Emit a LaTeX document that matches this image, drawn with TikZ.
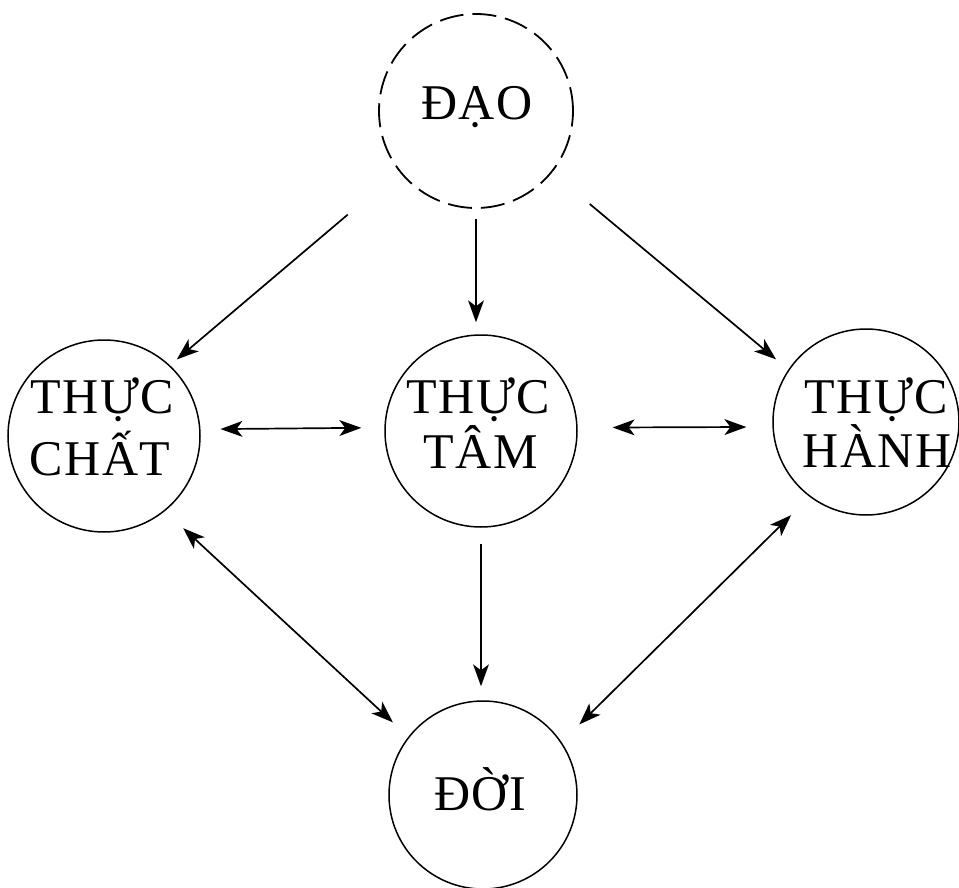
\documentclass[tikz,border=0pt]{standalone}
\usepackage{fontspec}
\setmainfont{Liberation Serif}
\usetikzlibrary{arrows.meta}
\tikzset{
  circ/.style={circle, draw, line width=1.5pt, inner sep=0pt},
  dashcirc/.style={circ, line width=1.8pt, dash pattern=on 24pt off 9pt},
  txt/.style={anchor=base, inner sep=0pt,
    font=\fontsize{50}{54}\selectfont\addfontfeatures{LetterSpace=3}},
  bigtip/.tip={Stealth[length=22pt,width=16pt,inset=6pt,line width=0pt]},
  arr/.style={line width=1.7pt, -bigtip},
  darr/.style={line width=1.7pt, bigtip-bigtip}
}
\begin{document}
\begin{tikzpicture}[x=1pt,y=-1pt]
\useasboundingbox (0,0) rectangle (959,888);
% circles
\node[dashcirc, minimum size=194pt] (dao) at (476,111) {};
\node[circ, minimum size=192pt] (chat) at (104,436) {};
\node[circ, minimum size=192pt] (tam) at (481,431) {};
\node[circ, minimum size=186pt] (hanh) at (866,422) {};
\node[circ, minimum size=188pt] (doi) at (483,795) {};
% texts
\node[txt] (daot) at (477,120) {ĐẠO};
\node[txt] (chat1) at (102,413) {THỰC};
\node[txt] (chat2) at (100,475) {CHẤT};
\node[txt] (tam1) at (478,413) {THỰC};
\node[txt] (tam2) at (481,468) {TÂM};
\node[txt] (hanh1) at (876,413) {THỰC};
\node[txt] (hanh2) at (877,467) {HÀNH};
\node[txt] (doit) at (480,810) {ĐỜI};
% from DAO
\draw[arr, shorten <=67pt, shorten >=9pt] (dao.218) -- (chat.47);
\draw[arr, shorten <=10pt, shorten >=12pt] (dao.south) -- (dao.south |- tam.north);
\draw[arr, shorten <=49pt, shorten >=16pt] (dao.321.4) -- (hanh.146.6);
% horizontal
\draw[darr, shorten <=20pt, shorten >=23pt] (chat.4.8) -- (tam.178.2);
\draw[darr, shorten <=35pt, shorten >=26pt] (tam.2.4) -- (hanh.183.1);
% to DOI
\draw[darr, shorten <=25pt, shorten >=21pt] (chat.309) -- (doi.142.4);
\draw[arr, shorten <=16pt, shorten >=14pt] (tam.south) -- (tam.south |- doi.north);
\draw[darr, shorten <=26pt, shorten >=25pt] (hanh.233.2) -- (doi.34.8);
\end{tikzpicture}
\end{document}
